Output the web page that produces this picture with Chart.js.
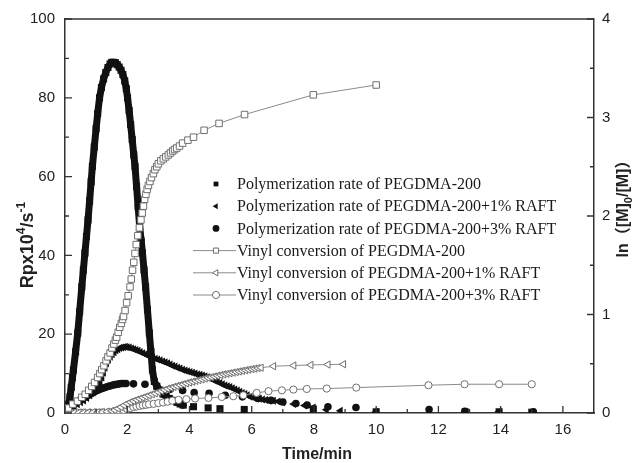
<!DOCTYPE html>
<html>
<head>
<meta charset="utf-8">
<script src="https://cdn.jsdelivr.net/npm/chart.js@4.4.1/dist/chart.umd.min.js"></script>
<style>
  html, body { margin: 0; padding: 0; background: #fff; }
  #wrap { width: 632px; height: 463px; }
</style>
</head>
<body>
<div id="wrap"><canvas id="rpChart" width="632" height="463"></canvas></div>
<script>
// [time/min, Rp x10^4 /s^-1]  (left axis)
const ratePeg = [
  [0.00, 0], [0.05, 0.3], [0.08, 0.8], [0.12, 2.2], [0.16, 4.1], [0.20, 6.5], [0.24, 9.0], [0.27, 10.9],
  [0.34, 15.5], [0.41, 20.3], [0.47, 25.7], [0.54, 32.0], [0.59, 36.3], [0.64, 40.6], [0.69, 44.8],
  [0.74, 49.0], [0.79, 53.8], [0.84, 58.7], [0.88, 62.6], [0.94, 67.5], [1.00, 72.2], [1.05, 76.0],
  [1.11, 80.0], [1.17, 82.6], [1.24, 84.8], [1.31, 86.4], [1.38, 87.7], [1.45, 88.6], [1.50, 89.0],
  [1.56, 89.0], [1.62, 88.9], [1.68, 88.4], [1.74, 87.8], [1.80, 87.0], [1.86, 85.9], [1.92, 84.3],
  [1.97, 82.3], [2.01, 80.0], [2.06, 76.8], [2.11, 73.2], [2.16, 69.4], [2.21, 65.5], [2.25, 62.6],
  [2.30, 57.5], [2.35, 52.4], [2.40, 47.3], [2.45, 43.6], [2.49, 40.6], [2.54, 36.3], [2.59, 32.0],
  [2.65, 26.2], [2.71, 20.3], [2.76, 15.6], [2.81, 10.9], [2.87, 8.0], [2.95, 6.8], [3.05, 5.8],
  [3.15, 4.8], [3.25, 4.2], [3.35, 3.7], [3.48, 3.2], [3.60, 2.7], [3.70, 2.3], [3.80, 2.0],
  [4.13, 1.6], [4.60, 1.3], [4.98, 1.1], [5.76, 0.9], [7.98, 1.0], [10.0, 0.3], [12.86, 0.3],
  [13.95, 0.3], [15.0, 0.2]
];
const rateRaft1 = [
  [0.00, 0], [0.10, 0.6], [0.20, 1.2], [0.30, 1.7], [0.40, 2.2], [0.50, 2.7], [0.60, 3.2], [0.70, 3.8],
  [0.80, 4.5], [0.90, 5.2], [1.00, 6.0], [1.07, 6.8], [1.13, 7.8], [1.19, 9.0], [1.24, 10.2],
  [1.29, 11.5], [1.34, 12.6], [1.40, 13.5], [1.46, 14.3], [1.52, 14.9], [1.58, 15.4], [1.64, 15.9],
  [1.70, 16.2], [1.76, 16.5], [1.82, 16.6], [1.88, 16.7], [1.94, 16.8], [2.00, 16.7], [2.07, 16.6],
  [2.14, 16.4], [2.21, 16.2], [2.28, 16.0], [2.35, 15.8], [2.42, 15.5], [2.50, 15.2], [2.58, 14.9],
  [2.66, 14.6], [2.74, 14.3], [2.82, 14.0], [2.90, 13.8], [2.98, 13.6], [3.06, 13.4], [3.14, 13.1],
  [3.22, 12.9], [3.30, 12.6], [3.38, 12.3], [3.46, 12.0], [3.54, 11.8], [3.62, 11.5], [3.70, 11.3],
  [3.78, 11.0], [3.86, 10.8], [3.94, 10.6], [4.02, 10.4], [4.10, 10.2], [4.18, 10.0], [4.26, 9.8],
  [4.34, 9.7], [4.42, 9.5], [4.50, 9.3], [4.58, 9.1], [4.66, 8.8], [4.74, 8.5], [4.82, 8.2],
  [4.90, 7.9], [4.98, 7.6], [5.06, 7.3], [5.14, 7.0], [5.22, 6.8], [5.30, 6.6], [5.38, 6.3],
  [5.46, 6.0], [5.54, 5.7], [5.62, 5.4], [5.70, 5.1], [5.78, 4.8], [5.86, 4.5], [5.95, 4.1],
  [6.05, 3.9], [6.15, 3.7], [6.25, 3.6], [6.35, 3.4], [6.45, 3.3], [6.55, 3.2], [6.70, 3.1],
  [6.85, 2.9], [7.00, 2.7], [7.35, 2.3], [7.70, 1.9], [7.98, 1.4], [8.40, 0.8], [8.85, 0.6],
  [10.0, 0.3], [13.95, 0.3]
];
const rateRaft3 = [
  [0.00, 0], [0.07, 0.5], [0.14, 1.1], [0.21, 1.6], [0.28, 2.1], [0.35, 2.5], [0.42, 2.9], [0.49, 3.3],
  [0.56, 3.6], [0.63, 4.0], [0.70, 4.3], [0.77, 4.6], [0.84, 4.9], [0.91, 5.2], [0.98, 5.5],
  [1.05, 5.8], [1.12, 6.0], [1.19, 6.2], [1.26, 6.4], [1.33, 6.6], [1.40, 6.8], [1.47, 6.9],
  [1.54, 7.1], [1.61, 7.2], [1.68, 7.3], [1.75, 7.4], [1.82, 7.5], [1.89, 7.5], [1.96, 7.5],
  [2.20, 7.4], [2.57, 7.3], [2.95, 6.7], [3.38, 6.0], [3.78, 5.7], [4.15, 5.2], [4.63, 5.0],
  [5.15, 4.5], [5.70, 4.1], [6.20, 3.7], [6.62, 3.2], [7.00, 2.8], [7.42, 2.4], [7.78, 2.0],
  [8.45, 1.6], [9.35, 1.4], [11.7, 0.9], [12.85, 0.4], [15.05, 0.3]
];
// [time/min, ln([M]0/[M])]  (right axis)
const convPeg = [
  [0.00, 0], [0.11, 0.05], [0.25, 0.09], [0.40, 0.12], [0.54, 0.16], [0.65, 0.19], [0.76, 0.23],
  [0.86, 0.27], [0.95, 0.31], [1.05, 0.36], [1.12, 0.40], [1.18, 0.44], [1.25, 0.48], [1.32, 0.53],
  [1.38, 0.57], [1.45, 0.61], [1.51, 0.66], [1.57, 0.70], [1.62, 0.74], [1.66, 0.77], [1.71, 0.82],
  [1.76, 0.87], [1.81, 0.91], [1.85, 0.95], [1.88, 0.98], [1.93, 1.04], [1.98, 1.12], [2.03, 1.19],
  [2.09, 1.28], [2.13, 1.36], [2.17, 1.45], [2.21, 1.53], [2.25, 1.62], [2.29, 1.71], [2.34, 1.80],
  [2.39, 1.88], [2.44, 1.96], [2.48, 2.03], [2.52, 2.10], [2.56, 2.17], [2.60, 2.22], [2.64, 2.27],
  [2.68, 2.31], [2.73, 2.35], [2.78, 2.39], [2.84, 2.43], [2.89, 2.47], [2.95, 2.50], [3.00, 2.53],
  [3.08, 2.56], [3.16, 2.58], [3.24, 2.60], [3.32, 2.62], [3.39, 2.64], [3.46, 2.66], [3.52, 2.675],
  [3.59, 2.69], [3.68, 2.71], [3.78, 2.74], [3.95, 2.77], [4.13, 2.80], [4.47, 2.87], [4.95, 2.94],
  [5.77, 3.03], [7.98, 3.23], [10.0, 3.33]
];
const convRaft1 = [
  [0.00, 0], [0.15, 0.005], [0.30, 0.005], [0.45, 0.005], [0.60, 0.005], [0.75, 0.006], [0.90, 0.007],
  [1.05, 0.008], [1.20, 0.010], [1.35, 0.014], [1.50, 0.022], [1.60, 0.030], [1.70, 0.045],
  [1.80, 0.060], [1.90, 0.078], [2.00, 0.095], [2.10, 0.110], [2.20, 0.122], [2.30, 0.134],
  [2.40, 0.145], [2.50, 0.156], [2.60, 0.167], [2.70, 0.178], [2.80, 0.190], [2.90, 0.200],
  [3.00, 0.212], [3.10, 0.224], [3.20, 0.235], [3.30, 0.246], [3.40, 0.256], [3.50, 0.265],
  [3.60, 0.274], [3.70, 0.283], [3.80, 0.292], [3.90, 0.301], [4.00, 0.310], [4.10, 0.318],
  [4.20, 0.326], [4.30, 0.334], [4.40, 0.342], [4.50, 0.350], [4.60, 0.357], [4.70, 0.364],
  [4.80, 0.371], [4.90, 0.378], [5.00, 0.385], [5.10, 0.392], [5.20, 0.398], [5.30, 0.404],
  [5.40, 0.410], [5.50, 0.416], [5.60, 0.422], [5.70, 0.428], [5.80, 0.434], [5.90, 0.440],
  [6.00, 0.446], [6.10, 0.451], [6.20, 0.456], [6.30, 0.460], [6.70, 0.475], [7.35, 0.482],
  [7.90, 0.488], [8.45, 0.492], [8.95, 0.495]
];
const convRaft3 = [
  [0.00, 0], [0.20, 0.003], [0.40, 0.003], [0.60, 0.004], [0.80, 0.004], [1.00, 0.005], [1.20, 0.006],
  [1.40, 0.008], [1.60, 0.012], [1.75, 0.020], [1.88, 0.030], [2.00, 0.040], [2.10, 0.050],
  [2.20, 0.060], [2.30, 0.066], [2.40, 0.072], [2.50, 0.078], [2.60, 0.083], [2.70, 0.088],
  [2.85, 0.093], [3.00, 0.100], [3.15, 0.107], [3.30, 0.115], [3.45, 0.125], [3.65, 0.133],
  [3.90, 0.140], [4.18, 0.147], [4.61, 0.153], [5.04, 0.163], [5.41, 0.170], [5.73, 0.180],
  [6.16, 0.204], [6.54, 0.222], [6.97, 0.230], [7.34, 0.238], [7.77, 0.244], [8.41, 0.248],
  [9.36, 0.258], [11.68, 0.282], [12.84, 0.292], [13.95, 0.292], [15.0, 0.292]
];

const seriesNames = [
  "Polymerization rate of PEGDMA-200",
  "Polymerization rate of PEGDMA-200+1% RAFT",
  "Polymerization rate of PEGDMA-200+3% RAFT",
  "Vinyl conversion of PEGDMA-200",
  "Vinyl conversion of PEGDMA-200+1% RAFT",
  "Vinyl conversion of PEGDMA-200+3% RAFT"
];
const xTickValues = [0, 2, 4, 6, 8, 10, 12, 14, 16];
const rateTickValues = [0, 20, 40, 60, 80, 100];
const convTickValues = [0, 1, 2, 3, 4];

const axisColor = "#333";
const tickFont = { family: "'Liberation Sans', Arial, sans-serif", size: 15 };

function pts(arr) {
  return arr.map(p => ({ x: p[0], y: p[1] }));
}

// the measured points are so close that they merge into a band; draw it only between close points
function band(color) {
  return {
    borderColor: ctx => (ctx.p1.parsed.x - ctx.p0.parsed.x > 0.2 ? "rgba(0,0,0,0)" : color)
  };
}

function filled(name, data, style, radius, lineW, rotation) {
  return {
    label: name, data: pts(data), yAxisID: "y", order: 2,
    showLine: lineW > 0, borderColor: "#111", borderWidth: lineW, segment: band("#111"),
    borderJoinStyle: "round", borderCapStyle: "round", tension: 0,
    pointStyle: style, rotation: rotation || 0, pointRadius: radius,
    pointBackgroundColor: "#111", pointBorderColor: "#111", pointBorderWidth: 0,
    isFilled: true
  };
}

function open(name, data, style, radius, rotation) {
  return {
    label: name, data: pts(data), yAxisID: "y1", order: 1,
    showLine: true, borderColor: "#8a8a8a", borderWidth: 1, tension: 0,
    pointStyle: style, rotation: rotation || 0, pointRadius: radius,
    pointBackgroundColor: "#fff", pointBorderColor: "#6f6f6f", pointBorderWidth: 1,
    isFilled: false
  };
}

const insideLegend = {
  id: "insideLegend",
  afterDatasetsDraw(chart) {
    const ctx = chart.ctx;
    ctx.save();
    ctx.font = "16px 'Liberation Serif', 'Times New Roman', serif";
    ctx.textBaseline = "middle";
    chart.data.datasets.forEach((ds, i) => {
      const y = 184 + i * 22.2;
      const mx = 216;
      if (!ds.isFilled) {
        ctx.strokeStyle = "#8a8a8a";
        ctx.lineWidth = 1;
        ctx.beginPath();
        ctx.moveTo(193, y); ctx.lineTo(236, y);
        ctx.stroke();
      }
      ctx.fillStyle = ds.isFilled ? "#111" : "#fff";
      ctx.strokeStyle = ds.isFilled ? "#111" : "#6f6f6f";
      ctx.lineWidth = 1;
      Chart.helpers.drawPoint(ctx, {
        pointStyle: ds.pointStyle, rotation: ds.rotation, radius: ds.isFilled ? 3.4 : 3.6,
        borderWidth: ds.isFilled ? 0 : 1
      }, mx, y);
      ctx.fillStyle = "#1a1a1a";
      ctx.fillText(ds.label, 237, y + 1);
    });
    ctx.restore();
  }
};

function drawRuns(ctx, runs, x, y, angle, family) {
  ctx.save();
  ctx.translate(x, y);
  ctx.rotate(angle);
  ctx.textBaseline = "alphabetic";
  let total = 0;
  runs.forEach(r => { ctx.font = "bold " + r.size + "px " + family; total += ctx.measureText(r.text).width; });
  let cx = -total / 2;
  runs.forEach(r => {
    ctx.font = "bold " + r.size + "px " + family;
    ctx.fillText(r.text, cx, r.dy || 0);
    cx += ctx.measureText(r.text).width;
  });
  ctx.restore();
}

const frameAndTitles = {
  id: "frameAndTitles",
  afterDraw(chart) {
    const { ctx, chartArea: a, scales } = chart;
    ctx.save();
    ctx.strokeStyle = axisColor;
    ctx.lineWidth = 1.5;
    ctx.beginPath();
    ctx.moveTo(a.left, a.top); ctx.lineTo(a.right, a.top);
    ctx.stroke();

    // ticks point into the plot; minor ticks halfway between the labelled ones
    function marks(scale, values, draw) {
      values.forEach((v, i) => {
        draw(scale.getPixelForValue(v), 7);
        if (i < values.length - 1) draw(scale.getPixelForValue((v + values[i + 1]) / 2), 4);
      });
    }
    ctx.lineWidth = 1.3;
    ctx.beginPath();
    marks(scales.x, xTickValues, (p, len) => { ctx.moveTo(p, a.bottom); ctx.lineTo(p, a.bottom - len); });
    marks(scales.y, rateTickValues, (p, len) => { ctx.moveTo(a.left, p); ctx.lineTo(a.left + len, p); });
    marks(scales.y1, convTickValues, (p, len) => { ctx.moveTo(a.right, p); ctx.lineTo(a.right - len, p); });
    ctx.stroke();

    ctx.fillStyle = "#222";
    const fam = "'Liberation Sans', Arial, 'Noto Sans CJK SC', sans-serif";
    drawRuns(ctx, [{ text: "Time/min", size: 16 }], 317, 459, 0, fam);
    drawRuns(ctx, [
      { text: "Rpx10", size: 18 }, { text: "4", size: 12, dy: -8 },
      { text: "/s", size: 18 }, { text: "-1", size: 12, dy: -8 }
    ], 33, 245, -Math.PI / 2, fam);
    drawRuns(ctx, [
      { text: "ln（[M]", size: 16 }, { text: "0", size: 11, dy: 4 }, { text: "/[M]）", size: 16 }
    ], 628, 205, -Math.PI / 2, fam);
    ctx.restore();
  }
};

new Chart(document.getElementById("rpChart"), {
  type: "scatter",
  data: {
    datasets: [
      filled(seriesNames[0], ratePeg, "rect", 5, 7),
      filled(seriesNames[1], rateRaft1, "triangle", 4.6, 3, -90),
      filled(seriesNames[2], rateRaft3, "circle", 3.8, 6),
      open(seriesNames[3], convPeg, "rect", 4.6),
      open(seriesNames[4], convRaft1, "triangle", 4.2, -90),
      open(seriesNames[5], convRaft3, "circle", 3.6)
    ]
  },
  options: {
    responsive: false,
    devicePixelRatio: 1,
    animation: false,
    layout: { padding: { top: 19, left: 0, right: 0, bottom: 0 } },
    plugins: { legend: { display: false }, tooltip: { enabled: false } },
    scales: {
      x: {
        type: "linear", position: "bottom", min: 0, max: 17,
        afterBuildTicks: s => { s.ticks = xTickValues.map(v => ({ value: v })); },
        afterFit: s => { s.height = 50; },
        grid: { display: false, drawTicks: false },
        border: { display: true, color: axisColor, width: 1.5 },
        ticks: { font: tickFont, color: "#222", padding: 8, maxRotation: 0 }
      },
      y: {
        type: "linear", position: "left", min: 0, max: 100,
        afterBuildTicks: s => { s.ticks = rateTickValues.map(v => ({ value: v })); },
        afterFit: s => { s.width = 65; },
        grid: { display: false, drawTicks: false },
        border: { display: true, color: axisColor, width: 1.5 },
        ticks: { font: tickFont, color: "#222", padding: 10 }
      },
      y1: {
        type: "linear", position: "right", min: 0, max: 4,
        afterBuildTicks: s => { s.ticks = convTickValues.map(v => ({ value: v })); },
        afterFit: s => { s.width = 38; },
        grid: { display: false, drawTicks: false },
        border: { display: true, color: axisColor, width: 1.5 },
        ticks: { font: tickFont, color: "#222", padding: 8 }
      }
    }
  },
  plugins: [insideLegend, frameAndTitles]
});
</script>
</body>
</html>
